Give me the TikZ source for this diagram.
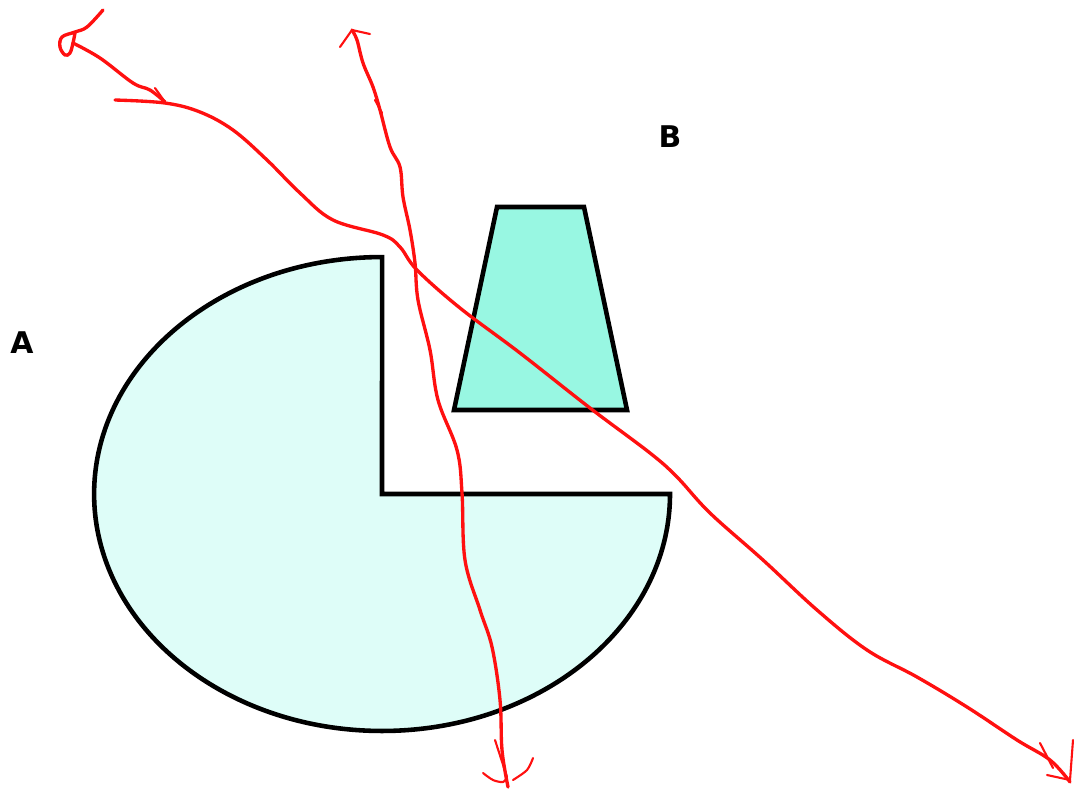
\documentclass[tikz,border=0pt]{standalone}
\usepackage{xcolor}
\usepackage{fontspec}
\setmainfont{DejaVu Sans}
\usepackage{tikz}
\definecolor{paleaqua}{HTML}{DEFDF8}
\definecolor{aqua}{HTML}{98F7E2}
\definecolor{inkred}{HTML}{FF1010}

\begin{document}
\begin{tikzpicture}[
  x=0.02cm,y=-0.02cm,
  region/.style={draw=black,line width=2.6pt,line join=miter},
  ray/.style={draw=inkred,line width=1.9pt,line cap=round,line join=round},
  barb/.style={draw=inkred,line width=1.2pt,line cap=round},
  lbl/.style={font=\fontsize{17}{20}\selectfont\bfseries,inner sep=0pt}
]
\useasboundingbox (0,0) rectangle (1074,789);
% pie shaped region A
\draw[region,fill=paleaqua] (670,494) arc[start angle=0,end angle=-270,x radius=5.76cm,y radius=4.74cm]
  -- (382,494) -- cycle;
% trapezoid B
\draw[region,fill=aqua] (497,207) -- (584,207) -- (627,410) -- (454,410) -- cycle;
\node[lbl] (labA) at (22,343) {A};
\node[lbl] (labB) at (670,137) {B};
% long ray
\draw[ray] plot[smooth,tension=0.6] coordinates {(115,100) (165,103) (200,112) (233,130) (267,160)
  (300,193) (333,220) (383,235) (400,247) (417,270) (460,308) (520,353) (590,408) (650,453)
  (677,477) (710,513) (763,560) (817,610) (867,650) (917,677) (967,707) (1017,740) (1050,760) (1070,782)};
\draw[barb] (1040,743) -- (1053,768);
\draw[barb] (1073,740) -- (1070,780);
\draw[barb] (1047,775) -- (1070,780);
% vertical ray
\draw[ray] plot[smooth,tension=0.6] coordinates {(352,30) (357,40) (363,63) (373,87) (380,110)
  (390,147) (400,167) (403,197) (410,230) (415,263) (418,300) (430,350) (438,400) (457,450)
  (462,493) (465,560) (480,610) (492,647) (500,700) (502,750) (508,787)};
\draw[barb] (340,47) -- (352,30) -- (370,34);
\draw[barb] (375,100) -- (382,113);
\draw[barb] (495,740) -- (507,777);
\draw[barb] plot[smooth] coordinates {(483,773) (493,780) (503,782) (507,777)};
\draw[barb] plot[smooth] coordinates {(533,758) (527,770) (513,780)};
% short ray with loop
\draw[ray] plot[smooth,tension=0.6] coordinates {(103,10) (87,27) (75,32) (62,37) (60,47)
  (65,55) (70,53) (73,43) (75,33)};
\draw[ray] plot[smooth,tension=0.6] coordinates {(73,43) (100,58) (133,83) (150,90) (165,102)};
\draw[barb] (155,88) -- (165,102);
\end{tikzpicture}
\end{document}
